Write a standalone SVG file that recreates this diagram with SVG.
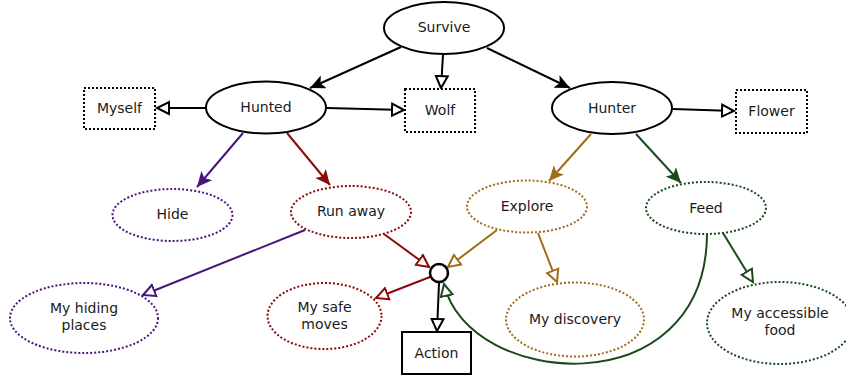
<svg xmlns="http://www.w3.org/2000/svg" width="846" height="378" viewBox="0 0 846 378">
<style>
text{font-family:"DejaVu Sans","Liberation Sans",sans-serif;font-size:14px;fill:#1a1a1a;text-anchor:middle}
.solid{fill:#fff;stroke:#000;stroke-width:2}
.dotbox{fill:#fff;stroke:#000;stroke-width:2;stroke-dasharray:2 2}
.dp{fill:#fff;stroke:#4b147d;stroke-width:2;stroke-dasharray:2 2}
.dr{fill:#fff;stroke:#8b0a0a;stroke-width:2;stroke-dasharray:2 2}
.dg{fill:#fff;stroke:#a06d14;stroke-width:2;stroke-dasharray:2 2}
.dn{fill:#fff;stroke:#1b4a1b;stroke-width:2;stroke-dasharray:2 2}
.e{fill:none;stroke-width:2}
.k{stroke:#000}.p{stroke:#4b147d}.r{stroke:#8b0a0a}.g{stroke:#a06d14}.n{stroke:#1b4a1b}
</style>
<defs>
<marker id="fk" markerUnits="userSpaceOnUse" markerWidth="16" markerHeight="14" refX="15" refY="7" orient="auto"><path d="M0,0 L15,7 L0,14 L3.5,7 z" fill="#000"/></marker>
<marker id="fp" markerUnits="userSpaceOnUse" markerWidth="16" markerHeight="14" refX="15" refY="7" orient="auto"><path d="M0,0 L15,7 L0,14 L3.5,7 z" fill="#4b147d"/></marker>
<marker id="fr" markerUnits="userSpaceOnUse" markerWidth="16" markerHeight="14" refX="15" refY="7" orient="auto"><path d="M0,0 L15,7 L0,14 L3.5,7 z" fill="#8b0a0a"/></marker>
<marker id="fg" markerUnits="userSpaceOnUse" markerWidth="16" markerHeight="14" refX="15" refY="7" orient="auto"><path d="M0,0 L15,7 L0,14 L3.5,7 z" fill="#a06d14"/></marker>
<marker id="fn" markerUnits="userSpaceOnUse" markerWidth="16" markerHeight="14" refX="15" refY="7" orient="auto"><path d="M0,0 L15,7 L0,14 L3.5,7 z" fill="#1b4a1b"/></marker>
<marker id="hk" markerUnits="userSpaceOnUse" markerWidth="16" markerHeight="16" refX="13" refY="8" orient="auto"><path d="M1,2 L13,8 L1,14 z" fill="#fff" stroke="#000" stroke-width="2"/></marker>
<marker id="hp" markerUnits="userSpaceOnUse" markerWidth="16" markerHeight="16" refX="13" refY="8" orient="auto"><path d="M1,2 L13,8 L1,14 z" fill="#fff" stroke="#4b147d" stroke-width="2"/></marker>
<marker id="hr" markerUnits="userSpaceOnUse" markerWidth="16" markerHeight="16" refX="13" refY="8" orient="auto"><path d="M1,2 L13,8 L1,14 z" fill="#fff" stroke="#8b0a0a" stroke-width="2"/></marker>
<marker id="hg" markerUnits="userSpaceOnUse" markerWidth="16" markerHeight="16" refX="13" refY="8" orient="auto"><path d="M1,2 L13,8 L1,14 z" fill="#fff" stroke="#a06d14" stroke-width="2"/></marker>
<marker id="hn" markerUnits="userSpaceOnUse" markerWidth="16" markerHeight="16" refX="13" refY="8" orient="auto"><path d="M1,2 L13,8 L1,14 z" fill="#fff" stroke="#1b4a1b" stroke-width="2"/></marker>
</defs>

<g id="connectors">
<path class="e k" d="M401,47 L310,88" marker-end="url(#fk)"/>
<path class="e k" d="M443,55 L441,88" marker-end="url(#hk)"/>
<path class="e k" d="M487,48 L570,88" marker-end="url(#fk)"/>
<path class="e k" d="M205,108 L157,108" marker-end="url(#hk)"/>
<path class="e k" d="M327,108 L404,110" marker-end="url(#hk)"/>
<path class="e k" d="M673,109 L734,111" marker-end="url(#hk)"/>
<path class="e p" d="M243,133 L197,187" marker-end="url(#fp)"/>
<path class="e r" d="M287,133 L330,185" marker-end="url(#fr)"/>
<path class="e g" d="M591,134 L549,181" marker-end="url(#fg)"/>
<path class="e n" d="M636,134 L681,183" marker-end="url(#fn)"/>
<path class="e p" d="M305,230 L143,295" marker-end="url(#hp)"/>
<path class="e r" d="M384,234 L429,267" marker-end="url(#hr)"/>
<path class="e r" d="M430,277 L376,298" marker-end="url(#hr)"/>
<path class="e g" d="M497,230 L448,267" marker-end="url(#hg)"/>
<path class="e g" d="M538,233 L557,282" marker-end="url(#hg)"/>
<path class="e n" d="M723,233 L753,282" marker-end="url(#hn)"/>
<path class="e n" d="M707,235 C705,408 468,388 444,284" marker-end="url(#hn)"/>
<path class="e k" d="M439,283 L437,331" marker-end="url(#hk)"/>
</g>

<g id="survive"><ellipse class="solid" cx="444" cy="28" rx="60" ry="26"/><text x="444" y="32">Survive</text></g>
<g id="hunted"><ellipse class="solid" cx="266" cy="107.5" rx="60" ry="26"/><text x="266" y="112">Hunted</text></g>
<g id="hunter"><ellipse class="solid" cx="612" cy="108" rx="60" ry="26"/><text x="612" y="113">Hunter</text></g>
<g id="myself"><rect class="dotbox" x="84" y="88" width="71" height="41"/><text x="119.5" y="113">Myself</text></g>
<g id="wolf"><rect class="dotbox" x="405" y="89" width="70" height="43"/><text x="440" y="115">Wolf</text></g>
<g id="flower"><rect class="dotbox" x="736" y="90" width="71" height="43"/><text x="771.5" y="116">Flower</text></g>
<g id="hide"><ellipse class="dp" cx="172.5" cy="215" rx="60" ry="26"/><text x="172.5" y="219">Hide</text></g>
<g id="runaway"><ellipse class="dr" cx="351" cy="212" rx="60" ry="26"/><text x="351" y="216">Run away</text></g>
<g id="explore"><ellipse class="dg" cx="527" cy="206.5" rx="60" ry="26"/><text x="527" y="211">Explore</text></g>
<g id="feed"><ellipse class="dn" cx="706" cy="208" rx="60" ry="26"/><text x="706" y="213">Feed</text></g>
<g id="hiding"><ellipse class="dp" cx="84" cy="318" rx="74" ry="35"/><text x="84" y="313">My hiding</text><text x="84" y="330">places</text></g>
<g id="safe"><ellipse class="dr" cx="324.5" cy="316" rx="57" ry="33"/><text x="324.5" y="312">My safe</text><text x="324.5" y="329">moves</text></g>
<g id="discovery"><ellipse class="dg" cx="575" cy="319.5" rx="69" ry="37"/><text x="575" y="324">My discovery</text></g>
<g id="food"><ellipse class="dn" cx="780" cy="323" rx="73" ry="41"/><text x="780" y="318">My accessible</text><text x="780" y="335">food</text></g>
<g id="junction"><circle cx="439" cy="273" r="9" fill="#fff" stroke="#000" stroke-width="2.5"/></g>
<g id="action"><rect class="solid" x="402" y="332" width="69" height="42"/><text x="436.5" y="358">Action</text></g>
</svg>
